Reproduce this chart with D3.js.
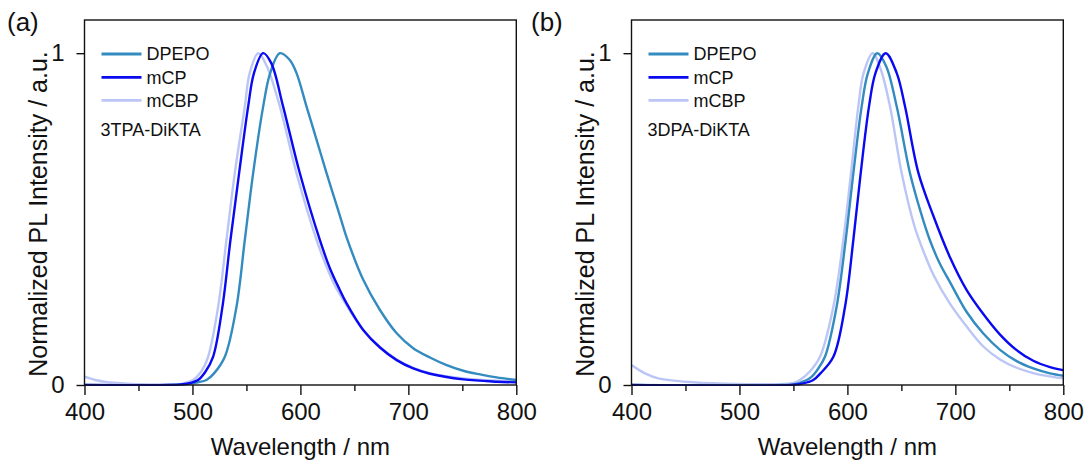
<!DOCTYPE html>
<html><head><meta charset="utf-8">
<script src="https://cdn.jsdelivr.net/npm/d3@7"></script>
<style>body{margin:0;background:#fff} svg{display:block}</style>
</head><body>
<svg id="c" width="1085" height="461"></svg>
<script>
// ---------- data ----------
const xTicks = [400, 500, 600, 700, 800];
const xMinorTicks = [450, 550, 650, 750];
const yTicks = [0, 1];
const seriesNames = ["DPEPO", "mCP", "mCBP"];
const seriesColors = ["#338bc0", "#0a0af0", "#bcc6f6"];
const panelLabels = ["(a)", "(b)"];
const compoundNames = ["3TPA-DiKTA", "3DPA-DiKTA"];

// panel (a) 3TPA-DiKTA
const a_DPEPO_wl = [400,480,495,505,513,520,530,540.8,548.5,556.2,565.5,572,581,590,596.4,605.7,615,624.3,630,636.6,642.8,658.2,673.7,689.2,704.5,720,735.5,750.9,766.4,781.8,800];
const a_DPEPO_I  = [0,0,0.003,0.008,0.015,0.035,0.085,0.236,0.437,0.638,0.839,0.94,1.0,0.98,0.94,0.839,0.739,0.638,0.578,0.51,0.445,0.317,0.226,0.156,0.111,0.083,0.060,0.043,0.032,0.023,0.015];
const a_mCP_wl = [400,480,490,498,505.2,512,519.1,527.8,535.2,543.2,551.6,557,565.5,573,584,599.5,618,627.3,636,642.8,658.2,673.7,689.2,704.5,720,751,782,800];
const a_mCP_I  = [0,0,0.002,0.006,0.015,0.04,0.085,0.236,0.437,0.638,0.839,0.94,1.0,0.97,0.839,0.638,0.437,0.352,0.29,0.246,0.166,0.113,0.075,0.050,0.034,0.017,0.010,0.008];
const a_mCBP_wl = [400,410,420,440,460,485,492,500.6,508,514.5,523.8,531.5,539.2,548.5,553,561,569,581,596.4,615,627.3,633.5,642.8,658.2,673.7,689.2,704.5,720,751,782,800];
const a_mCBP_I  = [0.025,0.015,0.009,0.004,0.002,0.002,0.005,0.015,0.04,0.085,0.236,0.437,0.638,0.839,0.94,1.0,0.96,0.839,0.638,0.437,0.332,0.29,0.24,0.165,0.115,0.077,0.052,0.036,0.02,0.013,0.011];

// panel (b) 3DPA-DiKTA
const b_DPEPO_wl = [400,540,550,562.3,567,572,579.2,590,598.4,605.5,613.2,619,627.7,636,645.7,658,668,676,685,695,710.5,725.9,741.4,756.8,772.2,787.7,800];
const b_DPEPO_I  = [0,0,0.002,0.015,0.025,0.045,0.085,0.236,0.437,0.638,0.839,0.94,1.0,0.96,0.839,0.638,0.52,0.44,0.37,0.31,0.22,0.155,0.106,0.072,0.050,0.035,0.028];
const b_mCP_wl = [400,548,558,568.4,575,587,597.8,605.5,612.3,620,626,635.5,645.7,653.4,665.7,679.6,695,710.5,725.9,741.4,756.8,772.2,787.7,800];
const b_mCP_I  = [0,0,0.004,0.015,0.035,0.085,0.236,0.437,0.638,0.839,0.94,1.0,0.94,0.839,0.64,0.51,0.385,0.286,0.214,0.152,0.105,0.073,0.054,0.045];
const b_mCBP_wl = [400,412.5,424.8,449.6,486.6,540,550,556,565,574.6,587,596.2,603.3,610.1,615,623.4,631,639.5,650.3,662,672,680,695,710.5,725.9,741.4,756.8,772.2,787.7,800];
const b_mCBP_I  = [0.06,0.035,0.02,0.01,0.004,0.003,0.006,0.015,0.04,0.085,0.236,0.437,0.638,0.839,0.94,1.0,0.95,0.839,0.638,0.48,0.39,0.33,0.245,0.176,0.116,0.077,0.052,0.036,0.026,0.02];

const panels = [
  {series: [[a_DPEPO_wl,a_DPEPO_I],[a_mCP_wl,a_mCP_I],[a_mCBP_wl,a_mCBP_I]]},
  {series: [[b_DPEPO_wl,b_DPEPO_I],[b_mCP_wl,b_mCP_I],[b_mCBP_wl,b_mCBP_I]]}
];

// ---------- layout ----------
const lefts = [84.5, 631.5], rights = [516.3, 1063.3];
const plotTop = 20, plotBottom = 385;
const font = "'Liberation Sans', Arial, sans-serif";
const svg = d3.select("#c");

panels.forEach((p, i) => {
  const x = d3.scaleLinear().domain([400, 800]).range([lefts[i], rights[i]]);
  const y = d3.scaleLinear().domain([0, 1.1]).range([plotBottom, plotTop]);
  const g = svg.append("g");

  const clipId = "clip" + i;
  svg.append("clipPath").attr("id", clipId).append("rect")
    .attr("x", lefts[i]).attr("y", plotTop).attr("width", rights[i]-lefts[i]).attr("height", plotBottom-plotTop+1);

  const order = [2, 0, 1];
  const line = d3.line().x(d => x(d[0])).y(d => y(d[1])).curve(d3.curveCatmullRom.alpha(0.5));
  order.forEach(k => {
    const [wl, I] = p.series[k];
    const pts = wl.map((w, j) => [w, I[j]]);
    g.append("path").attr("d", line(pts)).attr("fill", "none")
      .attr("stroke", seriesColors[k]).attr("stroke-width", 2.4)
      .attr("stroke-linejoin", "round")
      .attr("clip-path", `url(#${clipId})`);
  });

  g.append("rect").attr("x", lefts[i]).attr("y", plotTop)
    .attr("width", rights[i]-lefts[i]).attr("height", plotBottom-plotTop)
    .attr("fill", "none").attr("stroke", "#111").attr("stroke-width", 1.4);

  const xa = g.append("g").attr("transform", `translate(0,${plotBottom})`)
    .call(d3.axisBottom(x).tickValues(xTicks).tickSize(10).tickPadding(8).tickFormat(d3.format("d")));
  xa.select(".domain").remove();
  xa.selectAll("line").attr("stroke", "#111").attr("stroke-width", 1.4);
  xa.selectAll("text").attr("font-family", font).attr("font-size", 24).attr("fill", "#111").attr("dy", "0.72em");
  const xm = g.append("g").attr("transform", `translate(0,${plotBottom})`)
    .call(d3.axisBottom(x).tickValues(xMinorTicks).tickSize(6).tickFormat(""));
  xm.select(".domain").remove();
  xm.selectAll("line").attr("stroke", "#111").attr("stroke-width", 1.4);

  const ya = g.append("g").attr("transform", `translate(${lefts[i]},0)`)
    .call(d3.axisLeft(y).tickValues(yTicks).tickSize(8).tickPadding(12).tickFormat(d3.format("d")));
  ya.select(".domain").remove();
  ya.selectAll("line").attr("stroke", "#111").attr("stroke-width", 1.4);
  ya.selectAll("text").attr("font-family", font).attr("font-size", 24).attr("fill", "#111");

  g.append("text").attr("x", (lefts[i]+rights[i])/2).attr("y", 455)
    .attr("text-anchor", "middle").attr("font-family", font).attr("font-size", 24).attr("fill", "#111")
    .text("Wavelength / nm");
  g.append("text").attr("transform", `translate(${lefts[i]-38},214) rotate(-90)`)
    .attr("text-anchor", "middle").attr("font-family", font).attr("font-size", 25).attr("fill", "#111")
    .text("Normalized PL Intensity / a.u.");

  const ly = [54, 77.3, 100.3];
  seriesNames.forEach((n, k) => {
    g.append("line").attr("x1", lefts[i]+17).attr("x2", lefts[i]+57)
      .attr("y1", ly[k]).attr("y2", ly[k]).attr("stroke", seriesColors[k]).attr("stroke-width", 2.8);
    g.append("text").attr("x", lefts[i]+62).attr("y", ly[k]).attr("dy", "0.35em")
      .attr("font-family", font).attr("font-size", 18).attr("fill", "#111").text(n);
  });
  g.append("text").attr("x", lefts[i]+16).attr("y", 136)
    .attr("font-family", font).attr("font-size", 18).attr("fill", "#111").text(compoundNames[i]);

  g.append("text").attr("x", i === 0 ? 7 : 531).attr("y", 31)
    .attr("font-family", font).attr("font-size", 26).attr("fill", "#111").text(panelLabels[i]);
});
</script>
</body></html>
